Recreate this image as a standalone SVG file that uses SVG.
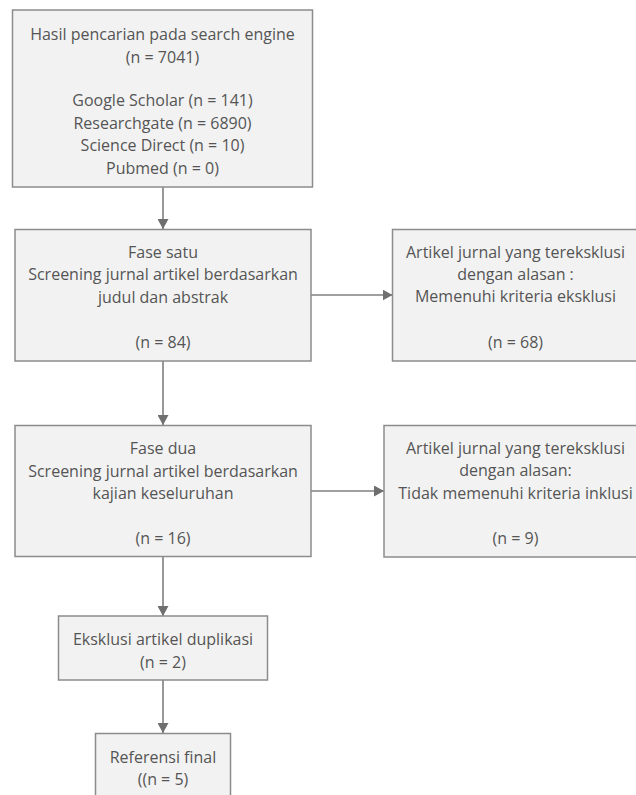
<svg xmlns="http://www.w3.org/2000/svg" width="636" height="795" viewBox="0 0 636 795">
<defs>
<style>
.box{fill:#f2f2f2;stroke:#8c8c8c;stroke-width:1.5}
.t{font-family:"Open Sans","Noto Sans","Liberation Sans",sans-serif;font-size:16px;fill:#555555;text-anchor:middle;dominant-baseline:central}
.c{stroke:#7f7f7f;stroke-width:1.6;fill:none}
</style>
<marker id="ah" markerWidth="11" markerHeight="11" refX="10" refY="5.5" orient="auto" markerUnits="userSpaceOnUse" viewBox="0 0 11 11">
<path d="M0,0 L10,5.5 L0,11 Z" fill="#6f6f6f"/>
</marker>
</defs>
<rect width="636" height="795" fill="#ffffff"/>
<g id="connectors">
<line class="c" x1="163" y1="187" x2="163" y2="229" marker-end="url(#ah)"/>
<line class="c" x1="163" y1="361" x2="163" y2="425" marker-end="url(#ah)"/>
<line class="c" x1="163" y1="557" x2="163" y2="616" marker-end="url(#ah)"/>
<line class="c" x1="163" y1="680" x2="163" y2="733" marker-end="url(#ah)"/>
<line class="c" x1="311" y1="295" x2="392.5" y2="295" marker-end="url(#ah)"/>
<line class="c" x1="311" y1="491" x2="384" y2="491" marker-end="url(#ah)"/>
</g>
<g id="n-search">
<rect class="box" x="12.5" y="10" width="300" height="177"/>
<text class="t" x="162.5" y="33.5">Hasil pencarian pada search engine</text>
<text class="t" x="162.5" y="56.5">(n = 7041)</text>
<text class="t" x="162.5" y="100">Google Scholar (n = 141)</text>
<text class="t" x="162.5" y="122.5">Researchgate (n = 6890)</text>
<text class="t" x="162.5" y="145">Science Direct (n = 10)</text>
<text class="t" x="162.5" y="167.5">Pubmed (n = 0)</text>
</g>
<g id="n-fase1">
<rect class="box" x="15" y="229.5" width="296" height="131.5"/>
<text class="t" x="163" y="251.5">Fase satu</text>
<text class="t" x="163" y="274">Screening jurnal artikel berdasarkan</text>
<text class="t" x="163" y="296.5">judul dan abstrak</text>
<text class="t" x="163" y="342">(n = 84)</text>
</g>
<g id="n-excl1">
<rect class="box" x="392.5" y="229.5" width="250" height="131.5"/>
<text class="t" x="515.5" y="251.5">Artikel jurnal yang tereksklusi</text>
<text class="t" x="515.5" y="273.5">dengan alasan :</text>
<text class="t" x="515.5" y="296">Memenuhi kriteria eksklusi</text>
<text class="t" x="515.5" y="341.5">(n = 68)</text>
</g>
<g id="n-fase2">
<rect class="box" x="15" y="425.5" width="296" height="131"/>
<text class="t" x="163" y="448">Fase dua</text>
<text class="t" x="163" y="470.5">Screening jurnal artikel berdasarkan</text>
<text class="t" x="163" y="492.5">kajian keseluruhan</text>
<text class="t" x="163" y="538">(n = 16)</text>
</g>
<g id="n-excl2">
<rect class="box" x="384" y="425.5" width="260" height="131.5"/>
<text class="t" x="515.5" y="448">Artikel jurnal yang tereksklusi</text>
<text class="t" x="515.5" y="470">dengan alasan:</text>
<text class="t" x="515.5" y="492.5">Tidak memenuhi kriteria inklusi</text>
<text class="t" x="515.5" y="538">(n = 9)</text>
</g>
<g id="n-dup">
<rect class="box" x="58.5" y="616" width="209" height="64"/>
<text class="t" x="163" y="639">Eksklusi artikel duplikasi</text>
<text class="t" x="163" y="661.5">(n = 2)</text>
</g>
<g id="n-final">
<rect class="box" x="95.5" y="733.5" width="135" height="70"/>
<text class="t" x="163" y="757">Referensi final</text>
<text class="t" x="163" y="779">((n = 5)</text>
</g>
</svg>
